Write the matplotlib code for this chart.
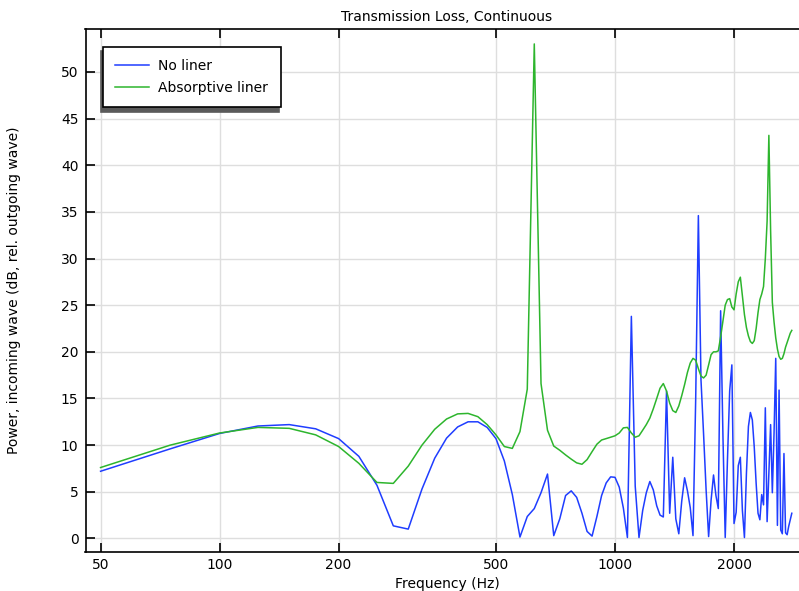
import numpy as np
import matplotlib.pyplot as plt

# frequency grid (Hz), 25 Hz steps
freq = np.arange(50, 2825, 25)

no_liner = [
    7.2, 9.6, 11.25, 12.05, 12.2, 11.75, 10.7, 8.8, 5.7, 1.35,      # 50-275
    1.0, 5.3, 8.6, 10.75, 11.95, 12.5, 12.5, 11.9, 10.7, 8.3,       # 300-525
    4.7, 0.15, 2.35, 3.2, 4.9, 6.9, 0.3, 2.1, 4.6, 5.1,             # 550-775
    4.4, 2.7, 0.75, 0.25, 2.35, 4.6, 5.95, 6.6, 6.55, 5.5,          # 800-1025
    3.25, 0.1, 23.8, 5.6, 0.1, 3.0, 4.9, 6.1, 5.2, 3.5,             # 1050-1275
    2.5, 2.3, 15.8, 2.7, 8.7, 2.1, 0.5, 4.0, 6.5, 5.1,              # 1300-1525
    3.3, 0.3, 15.0, 34.6, 17.0, 11.2, 5.2, 0.2, 4.1, 6.8,           # 1550-1775
    4.6, 3.2, 24.4, 11.0, 0.1, 8.4, 15.8, 18.6, 1.6, 2.8,           # 1800-2025
    7.8, 8.7, 3.0, 0.1, 7.0, 12.0, 13.5, 12.7, 9.8, 5.9,            # 2050-2275
    2.7, 2.0, 4.7, 3.6, 14.0, 1.8, 7.0, 12.2, 4.9, 11.3,            # 2300-2525
    19.3, 1.4, 15.9, 0.9, 0.5, 9.1, 0.6, 0.4, 1.3, 2.0,             # 2550-2775
    2.7,                                                            # 2800
]

absorptive = [
    7.6, 10.0, 11.3, 11.9, 11.8, 11.1, 9.85, 8.05, 6.0, 5.9,        # 50-275
    7.75, 10.0, 11.7, 12.8, 13.35, 13.4, 13.05, 12.2, 11.1, 9.85,   # 300-525
    9.65, 11.45, 16.0, 53.0, 16.6, 11.6, 9.9, 9.45, 8.95, 8.5,      # 550-775
    8.1, 7.95, 8.45, 9.3, 10.1, 10.55, 10.7, 10.85, 11.0, 11.3,     # 800-1025
    11.85, 11.9, 11.3, 10.85, 11.0, 11.6, 12.2, 12.9, 13.9, 15.0,   # 1050-1275
    16.1, 16.6, 15.8, 14.5, 13.7, 13.5, 14.2, 15.3, 16.5, 17.8,     # 1300-1525
    18.8, 19.3, 19.1, 18.2, 17.4, 17.2, 17.5, 18.6, 19.7, 20.0,     # 1550-1775
    20.0, 20.1, 21.6, 23.3, 25.0, 25.6, 25.7, 24.8, 24.5, 26.2,     # 1800-2025
    27.5, 28.0, 26.0, 24.0, 22.6, 21.7, 21.1, 20.9, 21.2, 22.5,     # 2050-2275
    24.2, 25.6, 26.2, 27.0, 30.0, 34.0, 43.2, 33.0, 25.3, 23.2,     # 2300-2525
    21.5, 20.3, 19.5, 19.2, 19.3, 19.8, 20.5, 21.0, 21.5, 22.0,     # 2550-2775
    22.3,                                                           # 2800
]

x_ticks = [50, 100, 200, 500, 1000, 2000]
y_ticks = list(range(0, 55, 5))

fig = plt.figure(figsize=(7.99, 5.91), dpi=100)
ax = fig.add_axes([85.5 / 799, 1 - 551.5 / 591, 723 / 799, 522.5 / 591])

ax.plot(freq, no_liner, color='#1f3dff', linewidth=1.1, label='No liner')
ax.plot(freq, absorptive, color='#2db52d', linewidth=1.1, label='Absorptive liner')

ax.set_xscale('log')
ax.set_xlim(45.8, 3086)
ax.set_ylim(-1.4, 54.6)
ax.set_xticks(x_ticks)
ax.set_xticklabels([str(t) for t in x_ticks])
ax.xaxis.set_minor_locator(plt.NullLocator())
ax.set_yticks(y_ticks)

ax.grid(True, color='#dedede', linewidth=1.0)
ax.set_axisbelow(True)
ax.tick_params(direction='in', length=6.5, width=1.2, top=True, right=False,
               labelsize=10, pad=5)
for s in ['left', 'bottom', 'top']:
    ax.spines[s].set_linewidth(1.2)
ax.spines['right'].set_visible(False)

ax.set_title('Transmission Loss, Continuous', fontsize=10, pad=6)
ax.set_xlabel('Frequency (Hz)', fontsize=10, labelpad=3)
ax.set_ylabel('Power, incoming wave (dB, rel. outgoing wave)', fontsize=10)
ax.yaxis.set_label_coords(-0.089, 0.5)

leg = ax.legend(loc='upper left', bbox_to_anchor=(0.0238, 0.966), borderaxespad=0,
                fontsize=10, fancybox=False, framealpha=1, edgecolor='black',
                handlelength=2.45, handletextpad=0.65, borderpad=0.9, labelspacing=0.55,
                shadow={'ox': -1.5, 'oy': -3, 'color': '#5a5a5a', 'alpha': 1})
leg.get_frame().set_linewidth(1.2)

fig.savefig('out.png', dpi=100)
